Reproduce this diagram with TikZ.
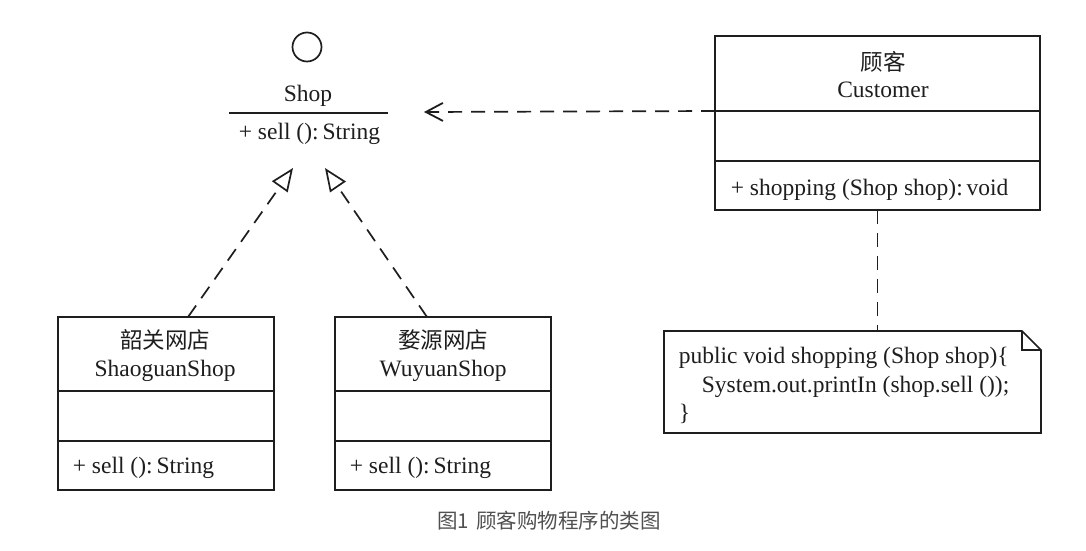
\documentclass[tikz,border=0pt]{standalone}
\usepackage{fontspec}
\setmainfont{Liberation Serif}
\newfontfamily\cjk{Noto Sans CJK SC}
\usetikzlibrary{arrows.meta}
\definecolor{ink}{RGB}{30,30,30}
\definecolor{capgray}{RGB}{80,80,80}
\begin{document}
\begin{tikzpicture}[x=1pt,y=-1pt,line width=1.7pt,draw=ink,text=ink,
  cls/.style={draw,rectangle,anchor=north west,inner sep=0pt,outer sep=0pt},
  lat/.style={font=\fontsize{23.5}{28}\selectfont,inner sep=0pt,anchor=base},
  latw/.style={font=\fontsize{23.5}{28}\selectfont,inner sep=0pt,anchor=base west},
  han/.style={font=\cjk\fontsize{22.5}{26}\selectfont,inner sep=0pt},
  dep/.style={dash pattern=on 14pt off 9pt},
  realize/.style={dep,-{Triangle[open,length=23pt,width=19pt,fill=white,line width=1.7pt]}},
  use/.style={dep,-{Straight Barb[length=17pt,width=18pt,line width=1.8pt]}}]
\useasboundingbox[fill=white] (0,0) rectangle (1086,551);

% Shop interface
\node[draw,circle,minimum size=29pt,inner sep=0pt] (lollipop) at (307,47) {};
\node[lat] (shopname) at (308,101) {Shop};
\coordinate (shopL) at (229,113);
\coordinate (shopR) at (388,113);
\draw (shopL) -- (shopR);
\node[latw] (shopop) at (238,139) {+ sell ():\,String};
\coordinate (depTip) at (424,112);
\coordinate (tipL) at (293,168);
\coordinate (tipR) at (325,168);

% Customer
\node[cls,minimum width=325pt,minimum height=174pt] (cust) at (715,36) {};
\draw ([yshift=-75pt]cust.north west) -- ([yshift=-75pt]cust.north east);
\draw ([yshift=-125pt]cust.north west) -- ([yshift=-125pt]cust.north east);
\node[han] (custcn) at (883,62) {顾客};
\node[lat] (custen) at (883,97) {Customer};
\node[latw] (custop) at (730,195) {+ shopping (Shop shop):\,void};

% ShaoguanShop
\node[cls,minimum width=216pt,minimum height=173pt] (shao) at (58,317) {};
\draw ([yshift=-74pt]shao.north west) -- ([yshift=-74pt]shao.north east);
\draw ([yshift=-124pt]shao.north west) -- ([yshift=-124pt]shao.north east);
\node[han] (shaocn) at (165,340) {韶关网店};
\node[lat] (shaoen) at (165,376) {ShaoguanShop};
\node[latw] (shaoop) at (72,473) {+ sell ():\,String};

% WuyuanShop
\node[cls,minimum width=216pt,minimum height=173pt] (wuy) at (335,317) {};
\draw ([yshift=-74pt]wuy.north west) -- ([yshift=-74pt]wuy.north east);
\draw ([yshift=-124pt]wuy.north west) -- ([yshift=-124pt]wuy.north east);
\node[han] (wuycn) at (443,340) {婺源网店};
\node[lat] (wuyen) at (443,376) {WuyuanShop};
\node[latw] (wuyop) at (349,473) {+ sell ():\,String};

% Note
\node[anchor=north west,inner sep=0pt,outer sep=0pt,minimum width=377pt,minimum height=102pt] (note) at (664,331) {};
\draw ([xshift=-19pt]note.north east) -- (note.north west) -- (note.south west)
  -- (note.south east) -- ([yshift=-19pt]note.north east) -- ([xshift=-19pt]note.north east) -- cycle;
\draw ([xshift=-19pt]note.north east) |- ([yshift=-19pt]note.north east);
\node[latw] (code1) at (678,363) {public void shopping (Shop shop)\{};
\node[latw] (code2) at (701,392) {System.out.printIn (shop.sell ());};
\node[latw] (code3) at (678,420) {\}};

% connectors
\draw[use] ([yshift=-75pt]cust.north west) -- (depTip);
\draw[realize] ([xshift=22pt]shao.north) -- (tipL);
\draw[realize] ([xshift=-16pt]wuy.north) -- (tipR);
\draw[dep] (cust.south) -- (cust.south |- note.north);

% caption
\node[font=\cjk\fontsize{20.5}{24}\selectfont,text=capgray,inner sep=0pt] (caption) at (549,521) {图1\hspace{7pt}顾客购物程序的类图};
\end{tikzpicture}
\end{document}
